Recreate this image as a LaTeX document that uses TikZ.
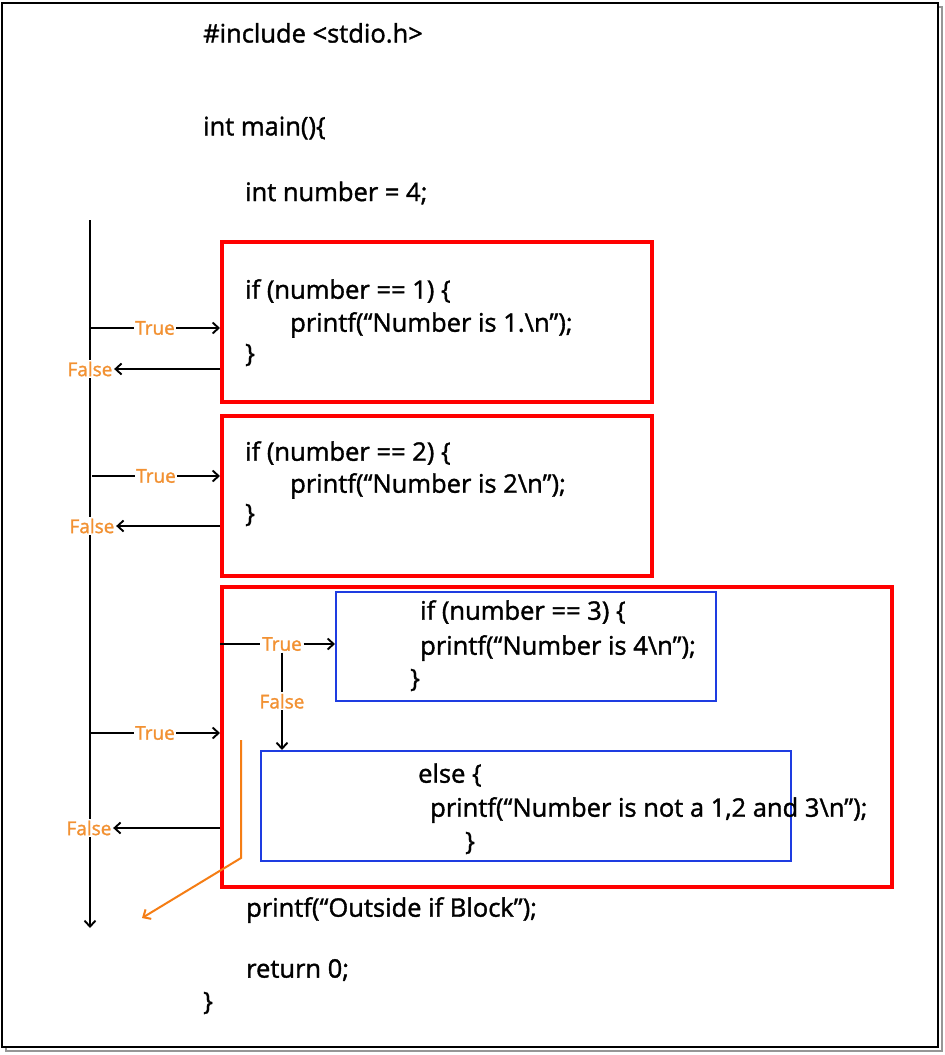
\documentclass[tikz,border=0pt]{standalone}
\usepackage{fontspec}
\setmainfont{Open Sans}
\newfontfamily\codefont{Open Sans}[FakeBold=1.4]
\usetikzlibrary{arrows.meta}
\definecolor{lblorange}{RGB}{242,145,50}
\definecolor{exitorange}{RGB}{245,125,20}
\definecolor{boxred}{RGB}{255,0,0}
\definecolor{boxblue}{RGB}{30,60,225}
\definecolor{shadowgray}{RGB}{150,150,150}
\tikzset{
  code/.style={anchor=west, inner sep=0pt, font=\codefont\fontsize{25.5}{30}\selectfont},
  lbl/.style={text=lblorange, font=\codefont\fontsize{19}{22}\selectfont, fill=white, inner sep=1.5pt},
  redbox/.style={draw=boxred, line width=3.8pt, anchor=north west, inner sep=0pt},
  bluebox/.style={draw=boxblue, line width=2pt, anchor=north west, inner sep=0pt},
  flow/.style={draw=black, line width=1.9pt, -{Straight Barb[length=6pt,width=11pt]}},
  orangeflow/.style={draw=exitorange, line width=2pt, -{Straight Barb[length=6pt,width=11pt]}},
}
\begin{document}
\begin{tikzpicture}[x=1pt,y=-1pt]
\useasboundingbox (0,0) rectangle (945,1055);
% outer frame with shadow
\draw[shadowgray, line width=2pt] (6,7) rectangle (942,1051);
\draw[black, line width=1.2pt, fill=white] (2,3) rectangle (938,1047);

% code text
\node[code] (inc) at (203,33) {\#include <stdio.h>};
\node[code] (main) at (203,128) {int main()\{};
\node[code] (num) at (245,193) {int number = 4;};

% red boxes
\node[redbox, minimum width=430pt, minimum height=160pt] (r1) at (220,240) {};
\node[redbox, minimum width=430pt, minimum height=160pt] (r2) at (220,414) {};
\node[redbox, minimum width=670pt, minimum height=300pt] (r3) at (220,585) {};
% blue boxes
\node[bluebox, minimum width=380pt, minimum height=109pt] (b1) at (335,591) {};
\node[bluebox, minimum width=530pt, minimum height=110pt] (b2) at (260,750) {};

% box texts
\node[code] (if1) at (245,291) {if (number == 1) \{};
\node[code] (pr1) at (290,325) {printf(“Number is 1.\textbackslash n”);};
\node[code] (cl1) at (245,355) {\}};
\node[code] (if2) at (245,453) {if (number == 2) \{};
\node[code] (pr2) at (290,486) {printf(“Number is 2\textbackslash n”);};
\node[code] (cl2) at (245,515) {\}};
\node[code] (if3) at (420,612) {if (number == 3) \{};
\node[code] (pr3) at (420,648) {printf(“Number is 4\textbackslash n”);};
\node[code] (cl3) at (410,680) {\}};
\node[code] (els) at (418,775) {else \{};
\node[code] (pr4) at (430,810) {printf(“Number is not a 1,2 and 3\textbackslash n”);};
\node[code] (cl4) at (465,843) {\}};
\node[code] (out) at (246,910) {printf(“Outside if Block”);};
\node[code] (ret) at (246,970) {return 0;};
\node[code] (end) at (203,1003) {\}};

% main vertical flow
\coordinate (vtop) at (90,220);
\coordinate (vbot) at (90,928);
\draw[flow] (vtop) -- (vbot);

% True / False branches
\coordinate (v1) at (90,328);
\coordinate (v2) at (92,476);
\coordinate (v3) at (90,733);
\draw[flow] (v1) -- node[lbl] {True} (v1 -| r1.west);
\draw[flow] (v2) -- node[lbl] {True} (v2 -| r2.west);
\draw[flow] (v3) -- node[lbl] {True} (v3 -| r3.west);

\node[lbl] (f1) at (90,369) {False};
\node[lbl] (f2) at (92,526) {False};
\node[lbl] (f3) at (89,828) {False};
\draw[flow] (f1 -| r1.west) -- (f1.east);
\draw[flow] (f2 -| r2.west) -- (f2.east);
\draw[flow] (f3 -| r3.west) -- (f3.east);

% inner branch
\node[lbl] (t4) at (282,644) {True};
\draw[line width=1.9pt] (t4 -| r3.west) -- (t4.west);
\draw[flow] (t4.east) -- (t4 -| b1.west);
\draw[flow] (t4.south) -- node[lbl] {False} (t4.south |- b2.north);

% orange exit path
\coordinate (o1) at (241,740);
\coordinate (o2) at (241,858);
\coordinate (o3) at (142,918);
\draw[orangeflow] (o1) -- (o2) -- (o3);
\end{tikzpicture}
\end{document}
